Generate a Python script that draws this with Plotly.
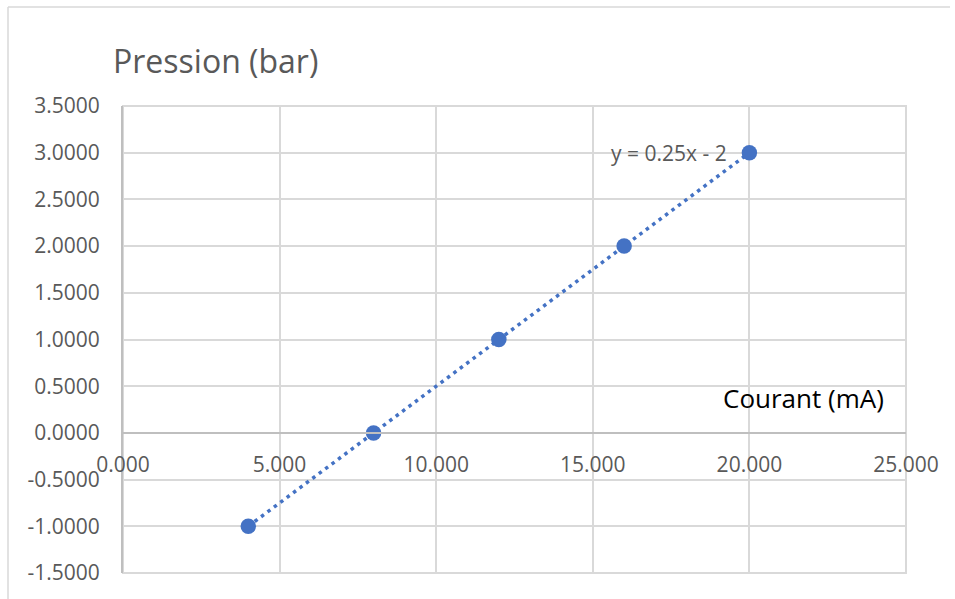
import numpy as np
import plotly.graph_objects as go

# Measured points: loop current vs pressure
courant_ma = [4, 8, 12, 16, 20]
pression_bar = [-1, 0, 1, 2, 3]

# Axis ticks and their labels
x_ticks = [0, 5, 10, 15, 20, 25]
x_tick_labels = ["0.000", "5.000", "10.000", "15.000", "20.000", "25.000"]
y_ticks = [-1.5, -1.0, -0.5, 0.0, 0.5, 1.0, 1.5, 2.0, 2.5, 3.0, 3.5]
y_tick_labels = ["-1.5000", "-1.0000", "-0.5000", "0.0000", "0.5000", "1.0000",
                 "1.5000", "2.0000", "2.5000", "3.0000", "3.5000"]

BLUE = "#4472C4"
TEXT = "#595959"
GRID = "#d9d9d9"
AXIS = "#bfbfbf"
FONT = "Open Sans"

# Linear trendline fitted on the measurements
slope, intercept = np.polyfit(courant_ma, pression_bar, 1)
trend_x = [min(courant_ma), max(courant_ma)]
trend_y = [slope * v + intercept for v in trend_x]
sign = "-" if intercept < 0 else "+"
equation = f"y = {slope:g}x {sign} {abs(intercept):g}"

fig = go.Figure()
fig.add_trace(go.Scatter(
    x=trend_x, y=trend_y, mode="lines",
    line=dict(color=BLUE, width=3.5, dash="3.5px,4.5px"),
    hoverinfo="skip", showlegend=False,
))
fig.add_trace(go.Scatter(
    x=courant_ma, y=pression_bar, mode="markers",
    marker=dict(color=BLUE, size=15.5),
    showlegend=False,
))

# Axis range of y: the x axis sits on y = 0
y_min, y_max = -1.5, 3.5
zero_pos = (0 - y_min) / (y_max - y_min)

fig.update_layout(
    width=955, height=599,
    margin=dict(l=123, r=49, t=106, b=26),
    paper_bgcolor="white", plot_bgcolor="white",
    font=dict(family=FONT, color=TEXT, size=21),
    title=dict(text="Pression (bar)", x=113 / 955, xanchor="left",
               y=1 - 62 / 599, yanchor="middle",
               font=dict(family=FONT, size=32, color=TEXT)),
    xaxis=dict(
        range=[0, 25], tickvals=x_ticks, ticktext=x_tick_labels,
        showgrid=True, gridcolor=GRID, gridwidth=2,
        zeroline=False, showline=True, linecolor=AXIS, linewidth=2,
        anchor="free", position=zero_pos, ticks="",
        ticklabelstandoff=13,
        tickfont=dict(family=FONT, size=21, color=TEXT),
    ),
    yaxis=dict(
        range=[y_min, y_max], tickvals=y_ticks, ticktext=y_tick_labels,
        showgrid=True, gridcolor=GRID, gridwidth=2,
        zeroline=False, showline=True, linecolor=AXIS, linewidth=2,
        ticks="", ticklabelstandoff=17,
        tickfont=dict(family=FONT, size=21, color=TEXT),
    ),
    annotations=[
        dict(text=equation, x=trend_x[-1], y=trend_y[-1], xref="x", yref="y",
             xanchor="right", yanchor="middle", xshift=-20, showarrow=False,
             font=dict(family=FONT, size=21, color=TEXT)),
        dict(text="Courant (mA)", x=(803 - 123) / 783, y=(573 - 398) / 467,
             xref="paper", yref="paper", xanchor="center", yanchor="middle",
             showarrow=False, font=dict(family=FONT, size=26, color="#000000")),
    ],
    shapes=[
        # plot area outline (outer gridlines)
        dict(type="rect", xref="paper", yref="paper", x0=0, x1=1, y0=0, y1=1,
             layer="below", line=dict(color=GRID, width=2)),
        # chart frame
        dict(type="line", xref="paper", yref="paper",
             x0=(8 - 123) / 783, x1=(950 - 123) / 783,
             y0=(573 - 7) / 467, y1=(573 - 7) / 467,
             line=dict(color=GRID, width=1.5)),
        dict(type="line", xref="paper", yref="paper",
             x0=(8 - 123) / 783, x1=(8 - 123) / 783,
             y0=(573 - 7) / 467, y1=(573 - 620) / 467,
             line=dict(color=GRID, width=1.5)),
    ],
)

fig.write_html("out.html")
